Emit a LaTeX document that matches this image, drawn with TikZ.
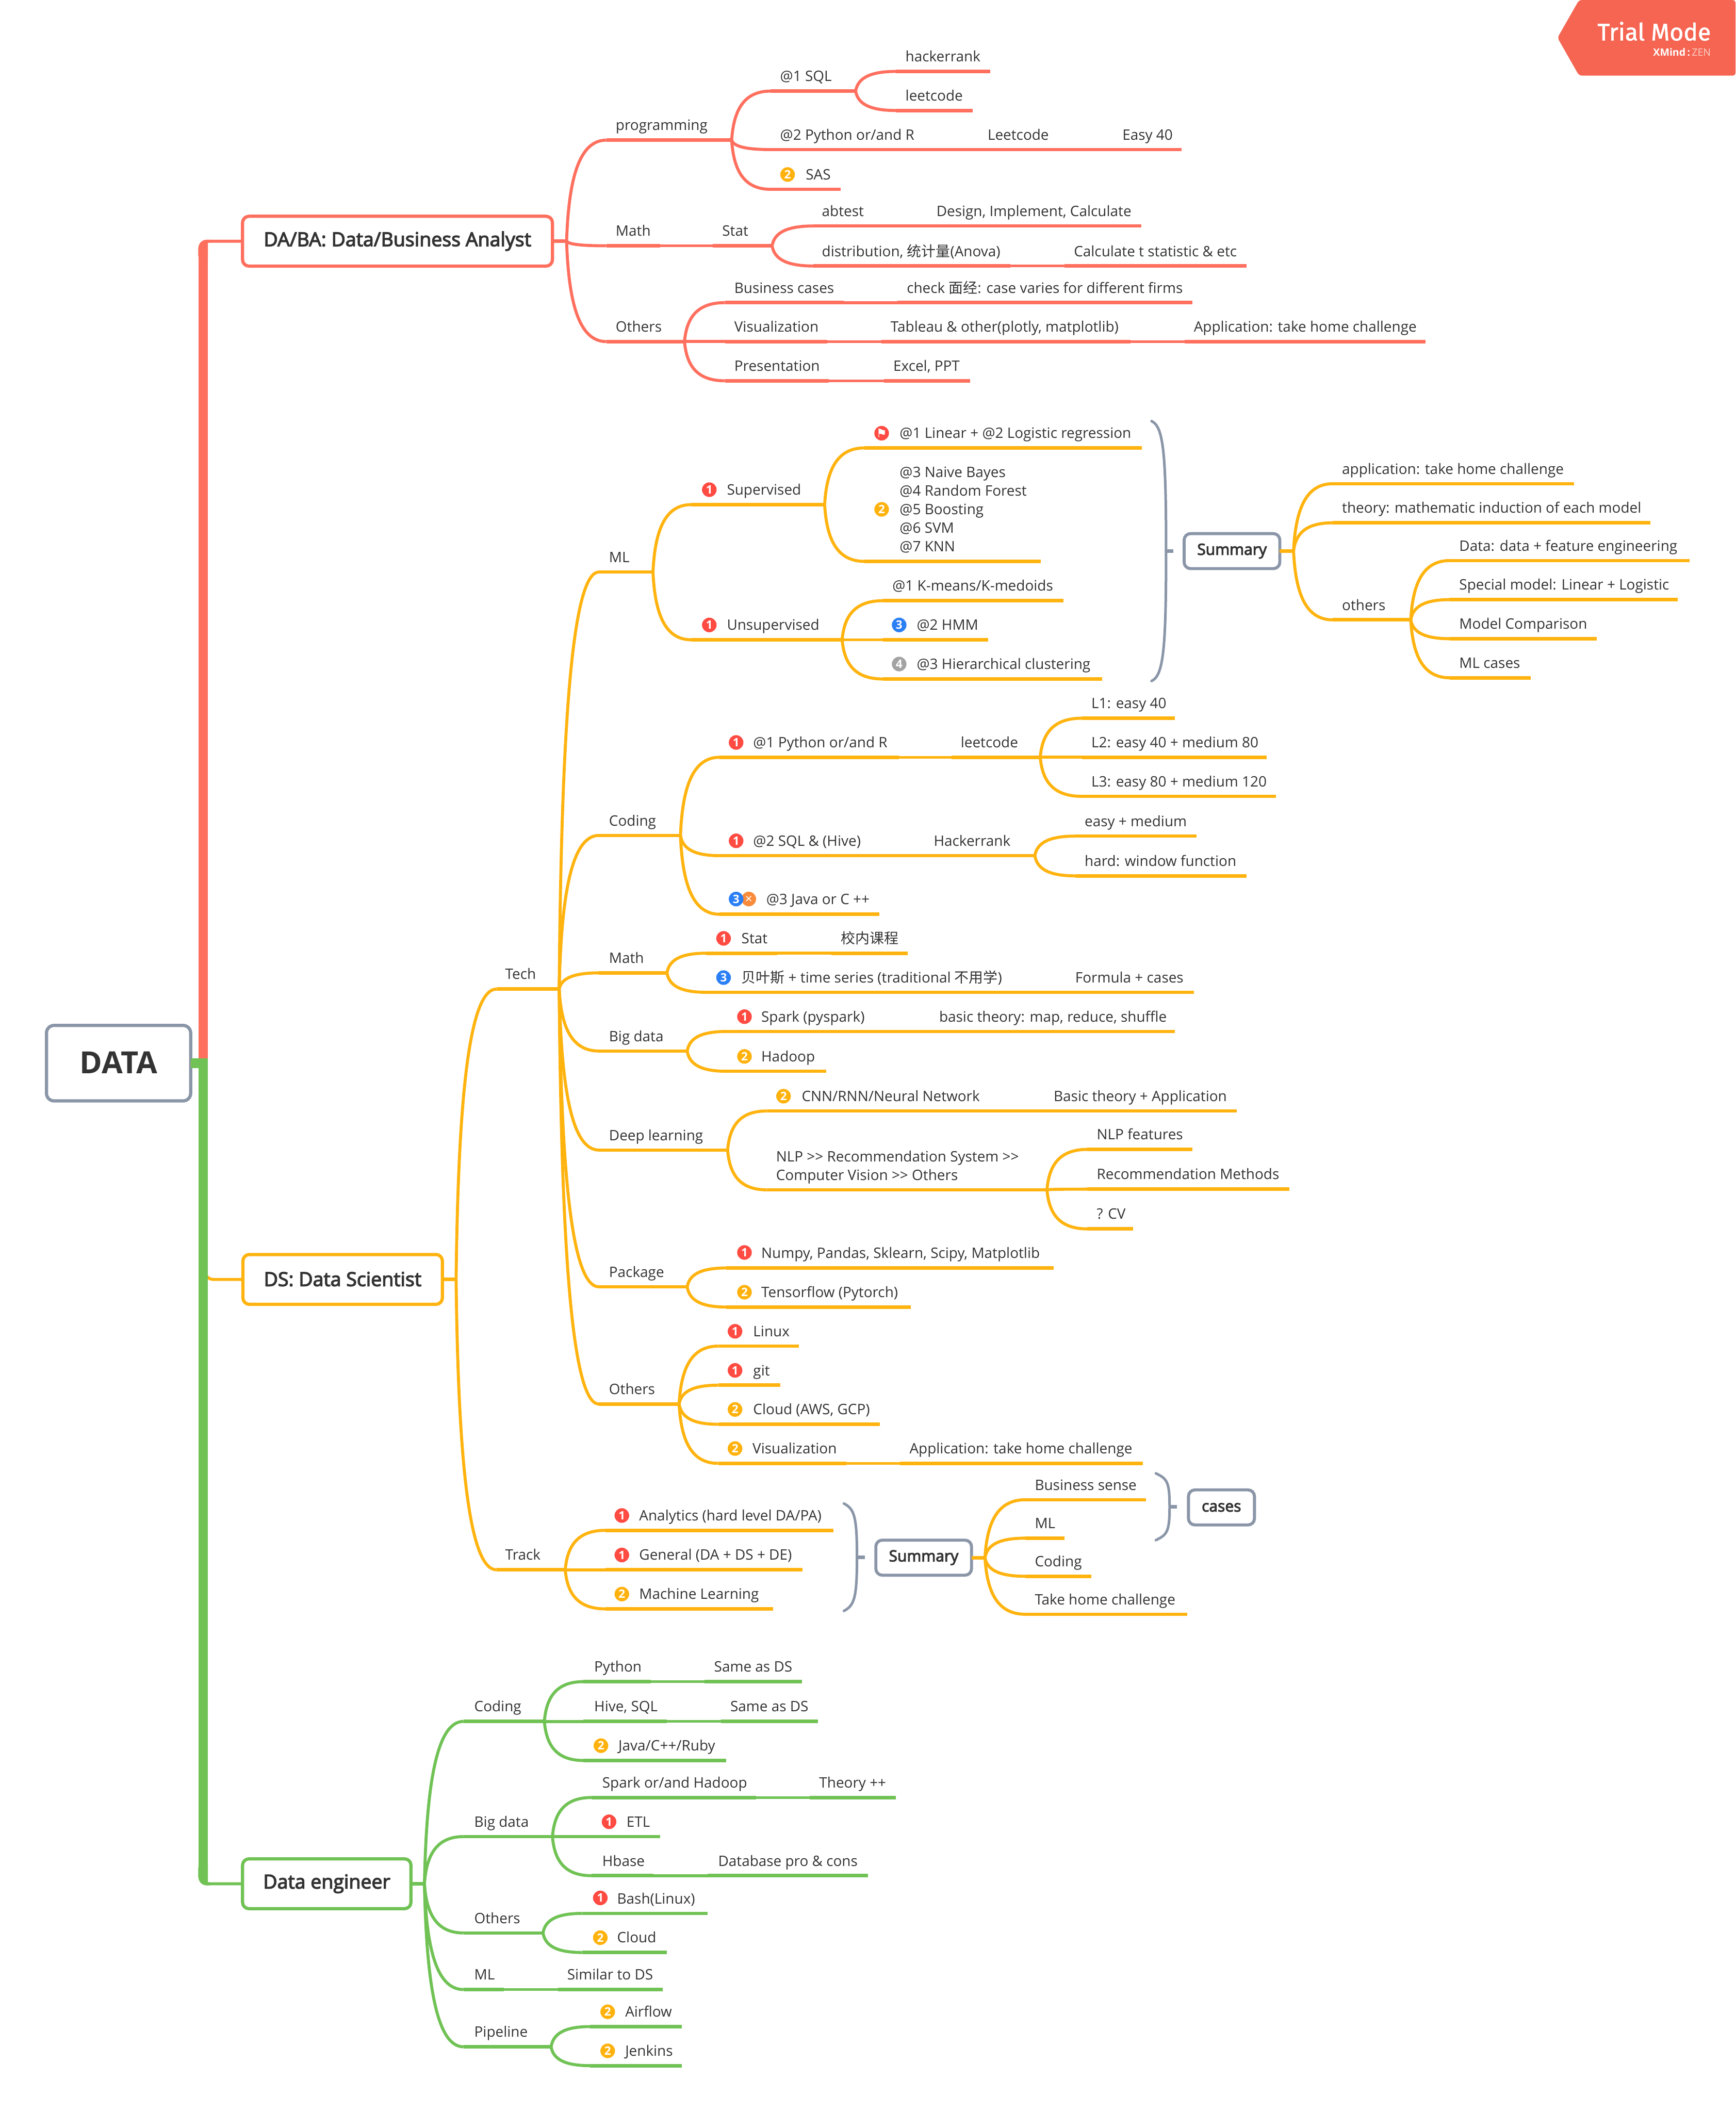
\documentclass[tikz,border=0pt]{standalone}
\usepackage{fontspec}
\setmainfont{Open Sans}
\newfontfamily\ossemi[FakeBold=3.6]{Open Sans}
\newfontfamily\cjk{Noto Sans CJK SC}
\newfontfamily\dejavu{DejaVu Sans}
\newfontfamily\firaf[FakeBold=1.5]{Fira Sans}
\usetikzlibrary{calc}
\definecolor{mmred}{HTML}{FF6F5E}
\definecolor{mmyellow}{HTML}{FFB30F}
\definecolor{mmgreen}{HTML}{70C255}
\definecolor{mmgray}{HTML}{8A96A8}
\definecolor{ink}{HTML}{333333}
\definecolor{bred}{HTML}{FF4B42}
\definecolor{byel}{HTML}{FFB20D}
\definecolor{bblue}{HTML}{2B7FF5}
\definecolor{bgray}{HTML}{A3A3A3}
\definecolor{bora}{HTML}{F98B3A}
\definecolor{trial}{HTML}{F56552}
\colorlet{brn}{mmred}
\newcommand\zh[1]{{\cjk #1}}
\tikzset{
  topic/.style={anchor=south west,inner xsep=0pt,inner ysep=2.5pt,text height=6pt,text depth=2pt,outer sep=0pt,font=\fontsize{6.7}{8.2}\selectfont,text=ink},
  uline/.style={line width=1.6pt,draw=brn},
  curveline/.style={line width=1.4pt,draw=brn},
  chainline/.style={line width=1.3pt,draw=brn},
  mainbox/.style={draw=brn,line width=1.5pt,rounded corners=3pt,fill=white,outer sep=0pt,inner sep=0pt,text=ink,font=\ossemi\fontsize{9}{11}\selectfont},
  sumbox/.style={draw=mmgray,line width=1.4pt,rounded corners=3pt,fill=white,outer sep=0pt,inner sep=0pt,text=ink,font=\ossemi\fontsize{7.2}{9}\selectfont},
  badgenode/.style={circle,inner sep=0pt,minimum size=6.8pt,outer sep=0pt,text=white,font=\fontsize{5.4}{5.4}\selectfont\bfseries},
  bracket/.style={draw=mmgray,line width=1.2pt},
  trunkline/.style={line width=4.4pt}
}
\newcommand\topic[7][]{%
  \pgfmathsetmacro\tpW{(#4-#3)*0.627}\pgfmathsetmacro\tpP{(#6-#3)*0.627}%
  \node[topic,#1] (#2) at (#3,#5) {\makebox[\tpW pt][l]{\hspace*{\tpP pt}#7}};
  \draw[uline] (#2.south west) -- (#2.south east);
}
\newcommand\conn[2]{%
  \draw[curveline] let \p1=(#1),\p2=(#2),\n1={\x2-\x1},\n2={\y2-\y1} in
   (\p1) .. controls (\x1+0.05*\n1,\y1+0.6*\n2) and (\x1+0.3*\n1,\y2) .. (\p2);
}
\newcommand\chainl[2]{\draw[chainline] (#1.south east) -- (#2.south west);}
\newcommand\badge[5]{\node[badgenode,fill=#2] (#1) at (#4,#5) {#3};}
\newcommand\mbrace[6]{%
  \coordinate (#1t) at (#2,#5);
  \coordinate (#1b) at (#2,#6);
  \coordinate (#1m) at (#3,{(#5+#6)/2});
  \coordinate (#1k) at (#4,{(#5+#6)/2});
  \draw[bracket,line cap=round] (#1t) .. controls (#3-2,#5+4) and (#3,{#5+0.12*(#6-#5)}) .. (#1m)
    .. controls (#3,{#6-0.12*(#6-#5)}) and (#3-2,#6-4) .. (#1b);
  \draw[draw=mmgray,line width=1.6pt] (#1m) -- (#1k);
}
\begin{document}
\begin{tikzpicture}[x=0.627pt,y=-0.627pt]
\useasboundingbox (0,0) rectangle (1288,1567.4);
\fill[white] (0,0) rectangle (1288,1567.4);

% ---- trial tag
\fill[trial,rounded corners=1.2pt] (1155.9,28) -- (1171.9,0) -- (1288,0) -- (1288,56.1) -- (1171.9,56.1) -- cycle;
\node[anchor=base east,inner sep=0pt,text=white,font=\firaf\fontsize{11.1}{12}\selectfont] (trialtext) at (1270,30) {Trial Mode};
\node[anchor=base east,inner sep=0pt,text=white,font=\fontsize{4.7}{5}\selectfont] (trialsub) at (1270,41.7) {\textbf{XMind\,:\,}\textcolor{white!70!trial}{ZEN}};

% ---- root and main boxes
\node[draw=mmgray,line width=1.5pt,rounded corners=3.5pt,fill=white,outer sep=0pt,inner sep=0pt,minimum width=107*0.627pt,minimum height=56*0.627pt,text=ink,font=\fontsize{14.2}{15}\selectfont\bfseries] (data) at (88,789) {\raisebox{0.5pt}{DATA}};
\node[mainbox,draw=mmred,minimum width=230*0.627pt,minimum height=37*0.627pt] (da) at (295,179) {DA/BA: Data/Business Analyst};
\node[mainbox,draw=mmyellow,minimum width=148*0.627pt,minimum height=37*0.627pt] (ds) at (254.3,949.5) {\raisebox{0.4pt}{DS: Data Scientist}};
\node[mainbox,draw=mmgreen,minimum width=125*0.627pt,minimum height=37*0.627pt] (de) at (242.5,1398) {Data engineer};

\coordinate (tR) at (150.8,186);
\coordinate (tRa) at (148.2,190);
\coordinate (tY) at (152,932);
\coordinate (tG) at (150.8,1390);
\coordinate (tGa) at (148.2,1386);
\draw[curveline,draw=mmred,rounded corners=3.8pt] (tRa) |- (da.west);
\fill[mmred] (147.3,192) [rounded corners=3.8pt] -- (147.3,177.9) [sharp corners] -- (156,177.9) -- (156,180.1) -- (154.3,180.1) -- (154.3,192) -- cycle;
\draw[trunkline,draw=mmred] (data.east) -| (tR);
\draw[curveline,draw=mmyellow] (data.east) -- ++(10,2);
\draw[curveline,draw=mmyellow,rounded corners=4pt] (tY) |- (ds.west);
\draw[curveline,draw=mmgreen,rounded corners=3.8pt] (tGa) |- (de.west);
\fill[mmgreen] (147.3,1384) [rounded corners=3.8pt] -- (147.3,1399.2) [sharp corners] -- (156,1399.2) -- (156,1396.9) -- (154.3,1396.9) -- (154.3,1384) -- cycle;
\draw[trunkline,draw=mmgreen] (data.east) -| (tG);

% ================ RED
\colorlet{brn}{mmred}
\coordinate (hDA) at (420.5,179);
\draw[uline] (da.east) -- (hDA);
\topic{prog}{450}{543}{104}{457}{programming}
\topic{sql}{572}{635}{67.6}{579}{@1 SQL}
\topic{hack}{665}{735}{53}{672}{hackerrank}
\topic{leet}{665}{722}{82}{672}{leetcode}
\topic{py}{572}{686}{111}{579}{@2 Python or/and R}
\topic{pyb}{726}{786}{111}{733}{Leetcode}
\topic{pyc}{826}{877}{111}{833}{Easy 40}
\topic{sas}{572}{624}{140.5}{598}{SAS}
\badge{sasb}{byel}{2}{584.5}{129.5}
\topic{dmath}{450}{490}{182.4}{457}{Math}
\topic{dstat}{529}{573}{182.4}{536}{Stat}
\topic{abt}{603.7}{649}{167.7}{610}{abtest}
\topic{abtb}{688}{847}{167.7}{695}{Design, Implement, Calculate}
\topic{dist}{603.7}{750}{197.4}{610}{distribution, \zh{统计量}(Anova)}
\topic{distb}{790}{925}{197.4}{797}{Calculate t statistic \& etc}
\topic{doth}{450}{508}{253.5}{457}{Others}
\topic{bc}{538}{626}{224.6}{545}{Business cases}
\topic{bcb}{666}{885}{224.6}{673}{check \zh{面经}: case varies for different firms}
\topic{vis}{538}{614}{253.5}{545}{Visualization}
\topic{visb}{654}{839}{253.5}{661}{Tableau \& other(plotly, matplotlib)}
\topic{visc}{879}{1058}{253.5}{886}{Application: take home challenge}
\topic{pres}{538}{615}{282.6}{545}{Presentation}
\topic{presb}{656}{720}{282.6}{663}{Excel, PPT}
\conn{hDA}{prog.south west}\conn{hDA}{dmath.south west}\conn{hDA}{doth.south west}
\conn{prog.south east}{sql.south west}\conn{prog.south east}{py.south west}\conn{prog.south east}{sas.south west}
\conn{sql.south east}{hack.south west}\conn{sql.south east}{leet.south west}
\chainl{py}{pyb}\chainl{pyb}{pyc}\chainl{dmath}{dstat}
\conn{dstat.south east}{abt.south west}\conn{dstat.south east}{dist.south west}
\chainl{abt}{abtb}\chainl{dist}{distb}
\conn{doth.south east}{bc.south west}\conn{doth.south east}{vis.south west}\conn{doth.south east}{pres.south west}
\chainl{bc}{bcb}\chainl{vis}{visb}\chainl{visb}{visc}\chainl{pres}{presb}

% ================ YELLOW
\colorlet{brn}{mmyellow}
\coordinate (hDS) at (338.5,949.5);
\draw[uline] (ds.east) -- (hDS);
\topic{tech}{368.5}{415}{734}{375}{Tech}
\topic{track}{368.5}{419.5}{1165}{375}{Track}
\conn{hDS}{tech.south west}\conn{hDS}{track.south west}
% ML
\topic{ml}{444.5}{484.6}{424.5}{452}{ML}
\topic{sup}{513}{612}{374.5}{539.5}{Supervised}
\badge{supb}{bred}{1}{526.4}{363.4}
\topic{lin}{641.6}{847.3}{332.4}{667.7}{@1 Linear + @2 Logistic regression}
\node[badgenode,fill=bred,font=\dejavu\fontsize{5.6}{5.6}\selectfont] (linb) at (654.3,321.5) {⚑};
\topic[text height=40.6pt]{mdl}{641.6}{772.4}{416.6}{667.7}{\vbox{\baselineskip=8.65pt\hbox{@3 Naive Bayes}\hbox{@4 Random Forest}\hbox{@5 Boosting}\hbox{@6 SVM}\hbox{@7 KNN}}}
\badge{mdlb}{byel}{2}{654.3}{378}
\topic{uns}{513}{625}{474.8}{539.5}{Unsupervised}
\badge{unsb}{bred}{1}{526.4}{463.8}
\topic{km}{655.3}{789.2}{445.8}{662.3}{@1 K-means/K-medoids}
\topic{hmm}{655.3}{733.3}{474.8}{680.4}{@2 HMM}
\badge{hmmb}{bblue}{3}{667.3}{463.8}
\topic{hier}{655.3}{817.8}{503.9}{680.4}{@3 Hierarchical clustering}
\badge{hierb}{bgray}{4}{667.3}{492.8}
\conn{tech.south east}{ml.south west}
\conn{ml.south east}{sup.south west}\conn{ml.south east}{uns.south west}
\conn{sup.south east}{lin.south west}\conn{sup.south east}{mdl.south west}
\conn{uns.south east}{km.south west}\conn{uns.south east}{hmm.south west}\conn{uns.south east}{hier.south west}
\mbrace{bA}{854.6}{865.4}{870.8}{312.5}{505.4}
\node[sumbox,minimum width=71*0.627pt,minimum height=26*0.627pt] (sumA) at (914.3,409) {\raisebox{-0.5pt}{Summary}};
\coordinate (hSA) at (960,409);
\draw[uline] (sumA.east) -- (hSA);
\topic{app}{989}{1168}{359}{996}{application: take home challenge}
\topic{theo}{989}{1225}{388}{996}{theory: mathematic induction of each model}
\topic{oth}{989}{1047}{460}{996}{others}
\topic{dat}{1076}{1254}{416}{1083}{Data: data + feature engineering}
\topic{spe}{1076}{1245}{445}{1083}{Special model: Linear + Logistic}
\topic{mod}{1076}{1185}{474}{1083}{Model Comparison}
\topic{mlc}{1076}{1136}{503}{1083}{ML cases}
\conn{hSA}{app.south west}\conn{hSA}{theo.south west}\conn{hSA}{oth.south west}
\conn{oth.south east}{dat.south west}\conn{oth.south east}{spe.south west}\conn{oth.south east}{mod.south west}\conn{oth.south east}{mlc.south west}
% Coding
\topic{cod}{444.5}{505}{620}{452}{Coding}
\topic{cpy}{534}{667}{562}{559}{@1 Python or/and R}
\badge{cpyb}{bred}{1}{546.3}{551}
\topic{cle}{706}{772}{562}{713}{leetcode}
\topic{lone}{803}{872}{533}{810}{L1: easy 40}
\topic{ltwo}{803}{940}{562}{810}{L2: easy 40 + medium 80}
\topic{lthr}{803}{947}{591}{810}{L3: easy 80 + medium 120}
\topic{csq}{534}{647}{635}{559}{@2 SQL \& (Hive)}
\badge{csqb}{bred}{1}{546.3}{624}
\topic{cha}{686}{768}{635}{693}{Hackerrank}
\topic{eas}{798}{888}{620.5}{805}{easy + medium}
\topic{har}{798}{925}{650}{805}{hard: window function}
\topic{cja}{534}{652.6}{678.5}{568.7}{@3 Java or C ++}
\node[badgenode,fill=bora,font=\dejavu\fontsize{4.4}{5}\selectfont] (cjax) at (555.7,667.2) {✕};
\badge{cjab}{bblue}{3}{546.3}{667.2}
\conn{tech.south east}{cod.south west}
\conn{cod.south east}{cpy.south west}\conn{cod.south east}{csq.south west}\conn{cod.south east}{cja.south west}
\chainl{cpy}{cle}\chainl{csq}{cha}
\conn{cle.south east}{lone.south west}\conn{cle.south east}{ltwo.south west}\conn{cle.south east}{lthr.south west}
\conn{cha.south east}{eas.south west}\conn{cha.south east}{har.south west}
% Math
\topic{mat}{444.5}{495}{722}{452}{Math}
\topic{sta}{524}{577}{707.4}{550.3}{Stat}
\badge{stab}{bred}{1}{537}{696.4}
\topic{stb}{617}{673.6}{707.4}{624}{\zh{校内课程}}
\topic{bay}{524}{751}{736.4}{550.3}{\zh{贝叶斯} + time series (traditional \zh{不用学})}
\badge{bayb}{bblue}{3}{537}{725.5}
\topic{bayc}{791}{886}{736.4}{798}{Formula + cases}
\conn{tech.south east}{mat.south west}
\conn{mat.south east}{sta.south west}\conn{mat.south east}{bay.south west}
\chainl{sta}{stb}\chainl{bay}{bayc}
% Big data
\topic{big}{444.5}{510}{780}{452}{Big data}
\topic{spk}{539}{650}{765.5}{565}{Spark (pyspark)}
\badge{spkb}{bred}{1}{552.5}{754.5}
\topic{spc}{690}{872}{765.5}{697}{basic theory: map, reduce, shuffle}
\topic{had}{539}{613}{795}{565}{Hadoop}
\badge{hadb}{byel}{2}{552.5}{784}
\conn{tech.south east}{big.south west}
\conn{big.south east}{spk.south west}\conn{big.south east}{had.south west}
\chainl{spk}{spc}
% Deep learning
\topic{deep}{444.5}{540}{853.5}{452}{Deep learning}
\topic{cnn}{569}{735}{824.5}{595}{CNN/RNN/Neural Network}
\badge{cnnb}{byel}{2}{581.5}{813.5}
\topic{cnc}{775}{918}{824.5}{782}{Basic theory + Application}
\topic[text height=14.7pt]{nlp}{569}{777}{883}{576}{\vbox{\baselineskip=8.65pt\hbox{NLP >{}> Recommendation System >{}>}\hbox{Computer Vision >{}> Others}}}
\topic{nlf}{807}{885}{853}{814}{NLP features}
\topic{rec}{807}{957}{882.5}{814}{Recommendation Methods}
\topic{cv}{807}{841}{912}{814}{? CV}
\conn{tech.south east}{deep.south west}
\conn{deep.south east}{cnn.south west}\conn{deep.south east}{nlp.south west}
\chainl{cnn}{cnc}
\conn{nlp.south east}{nlf.south west}\conn{nlp.south east}{rec.south west}\conn{nlp.south east}{cv.south west}
% Package
\topic{pac}{444.5}{510}{955}{452}{Package}
\topic{num}{539}{782}{941}{565}{Numpy, Pandas, Sklearn, Scipy, Matplotlib}
\badge{numb}{bred}{1}{552.5}{929.5}
\topic{ten}{539}{676}{970}{565}{Tensorflow (Pytorch)}
\badge{tenb}{byel}{2}{552.5}{959}
\conn{tech.south east}{pac.south west}
\conn{pac.south east}{num.south west}\conn{pac.south east}{ten.south west}
% Others
\topic{yot}{444.5}{504}{1042}{452}{Others}
\topic{lnx}{533}{593}{999}{559}{Linux}
\badge{lnxb}{bred}{1}{545.5}{988}
\topic{git}{533}{579}{1028}{559}{git}
\badge{gitb}{bred}{1}{545.5}{1017}
\topic{cld}{533}{653}{1057}{559}{Cloud (AWS, GCP)}
\badge{cldb}{byel}{2}{545.5}{1046}
\topic{yvi}{533}{628}{1086}{558.5}{Visualization}
\badge{yvib}{byel}{2}{545.5}{1075}
\topic{yvc}{668}{848}{1086}{675}{Application: take home challenge}
\conn{tech.south east}{yot.south west}
\conn{yot.south east}{lnx.south west}\conn{yot.south east}{git.south west}\conn{yot.south east}{cld.south west}\conn{yot.south east}{yvi.south west}
\chainl{yvi}{yvc}
% Track
\topic{tra}{449.4}{618.6}{1135.7}{474.4}{Analytics (hard level DA/PA)}
\badge{trab}{bred}{1}{461.5}{1124.7}
\topic{trg}{449.4}{595.6}{1165}{474.4}{General (DA + DS + DE)}
\badge{trgb}{bred}{1}{461.5}{1154}
\topic{trm}{449.4}{573.6}{1194}{474.4}{Machine Learning}
\badge{trmb}{byel}{2}{461.5}{1183}
\conn{track.south east}{tra.south west}\conn{track.south east}{trg.south west}\conn{track.south east}{trm.south west}
\mbrace{bB}{626.3}{636}{642}{1115.8}{1195.5}
\node[sumbox,minimum width=71*0.627pt,minimum height=26*0.627pt] (sumB) at (685.5,1156) {\raisebox{-0.5pt}{Summary}};
\coordinate (hSB) at (731,1156);
\draw[uline] (sumB.east) -- (hSB);
\topic{tbs}{761}{850.5}{1113}{768}{Business sense}
\topic{tml}{761}{790}{1141.5}{768}{ML}
\topic{tco}{761}{810}{1169.8}{768}{Coding}
\topic{tth}{761}{881}{1198}{768}{Take home challenge}
\conn{hSB}{tbs.south west}\conn{hSB}{tml.south west}\conn{hSB}{tco.south west}\conn{hSB}{tth.south west}
\mbrace{bC}{857.8}{868}{873.5}{1093.4}{1143}
\node[sumbox,minimum width=49*0.627pt,minimum height=26*0.627pt] (cases) at (906.5,1118.7) {\raisebox{-0.5pt}{cases}};

% ================ GREEN
\colorlet{brn}{mmgreen}
\coordinate (hDE) at (315,1398);
\draw[uline] (de.east) -- (hDE);
\topic{gco}{344}{404}{1277.5}{352}{Coding}
\topic{gpy}{433}{483}{1248}{441}{Python}
\topic{gpb}{523}{595}{1248}{530}{Same as DS}
\topic{ghi}{433}{495}{1277.5}{441}{Hive, SQL}
\topic{ghb}{535}{607}{1277.5}{542}{Same as DS}
\topic{gja}{433}{539}{1306.5}{459}{Java/C++/Ruby}
\badge{gjab}{byel}{2}{446}{1295.5}
\conn{hDE}{gco.south west}
\conn{gco.south east}{gpy.south west}\conn{gco.south east}{ghi.south west}\conn{gco.south east}{gja.south west}
\chainl{gpy}{gpb}\chainl{ghi}{ghb}
\topic{gbi}{344}{410}{1363}{352}{Big data}
\topic{gsp}{439}{561}{1334}{447}{Spark or/and Hadoop}
\topic{gth}{601}{665}{1334}{608}{Theory ++}
\topic{get}{439}{490}{1363}{465}{ETL}
\badge{getb}{bred}{1}{452}{1352}
\topic{ghba}{439}{485}{1392}{447}{Hbase}
\topic{gdb}{525}{644}{1392}{533}{Database pro \& cons}
\conn{hDE}{gbi.south west}
\conn{gbi.south east}{gsp.south west}\conn{gbi.south east}{get.south west}\conn{gbi.south east}{ghba.south west}
\chainl{gsp}{gth}\chainl{ghba}{gdb}
\topic{got}{344}{403}{1434.5}{352}{Others}
\topic{gba}{432}{525}{1420}{458}{Bash(Linux)}
\badge{gbab}{bred}{1}{445.5}{1408.5}
\topic{gcl}{432}{495}{1449}{458}{Cloud}
\badge{gclb}{byel}{2}{445.5}{1438}
\conn{hDE}{got.south west}
\conn{got.south east}{gba.south west}\conn{got.south east}{gcl.south west}
\topic{gml}{344}{374}{1476.5}{352}{ML}
\topic{gsi}{414}{492}{1476.5}{421}{Similar to DS}
\conn{hDE}{gml.south west}\chainl{gml}{gsi}
\topic{gpi}{344}{409}{1519}{352}{Pipeline}
\topic{gai}{438}{506}{1504}{464}{Airflow}
\badge{gaib}{byel}{2}{451}{1493}
\topic{gje}{438}{506}{1533}{464}{Jenkins}
\badge{gjeb}{byel}{2}{451}{1522}
\conn{hDE}{gpi.south west}
\conn{gpi.south east}{gai.south west}\conn{gpi.south east}{gje.south west}
\end{tikzpicture}
\end{document}
